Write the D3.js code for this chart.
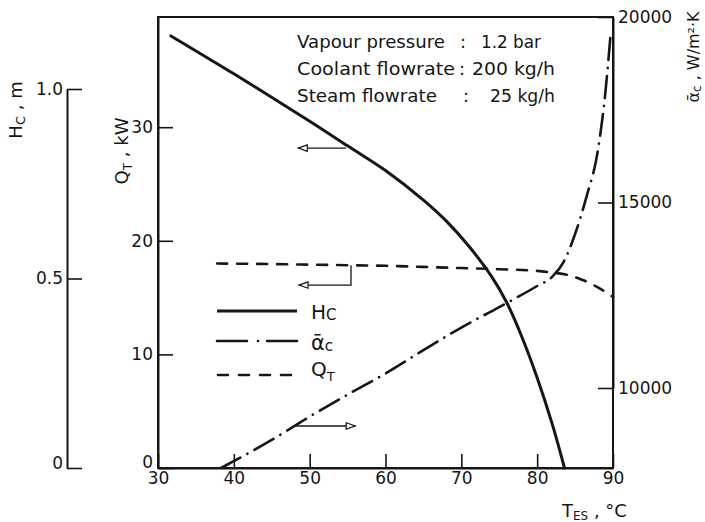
<!DOCTYPE html>
<html><head><meta charset="utf-8">
<script src="https://cdn.jsdelivr.net/npm/d3@7"></script>
<style>
body{margin:0;background:#fff;}
svg{display:block;font-family:"DejaVu Sans",sans-serif;}
</style></head><body>
<svg id="c" width="705" height="522"></svg>
<script>
// ---------- data ----------
const tempTicks = [30, 40, 50, 60, 70, 80, 90];
const qTicks = [0, 10, 20, 30];
const hTicks = [0, 0.5, 1.0];
const alphaTicks = [10000, 15000, 20000];

// H_C (m) vs T_ES
const hcT   = [31.7, 40, 50, 55, 60, 65, 68, 71, 74, 76, 78, 80, 82, 83.6];
const hcVal = [1.14, 1.04, 0.915, 0.85, 0.785, 0.707, 0.652, 0.585, 0.505, 0.436, 0.345, 0.238, 0.115, 0];

// mean alpha_c (W/m2K) vs T_ES
const alphaT   = [38.3, 45, 50, 55, 60, 65, 70, 75, 80, 82, 83.5, 85, 86.5, 88, 89, 89.7];
const alphaVal = [7844, 8600, 9230, 9820, 10390, 11020, 11630, 12180, 12750, 13000, 13400, 14150, 15150, 16400, 17980, 19570];

// Q_T (kW) vs T_ES
const qtT   = [37.8, 45, 50, 55, 60, 65, 70, 75, 80, 82, 84, 86, 88, 90];
const qtVal = [18.0, 17.95, 17.9, 17.85, 17.8, 17.7, 17.6, 17.5, 17.35, 17.2, 17.0, 16.55, 15.9, 15.05];

const noteLabels = ["Vapour pressure", "Coolant flowrate", "Steam flowrate"];
const noteValues = ["1.2 bar", "200 kg/h", "25 kg/h"];

// arrows (data coordinates)
const arrowHc = [[54.8, 0.844], [48.5, 0.844]];
const arrowQt = [[55.45, 17.85], [55.45, 16.1], [48.6, 16.1]];
const arrowAlpha = [[48.2, 8976], [56.0, 8976]];

// ---------- chart ----------
const ink = "#161616";
const svg = d3.select("#c");
const x  = d3.scaleLinear().domain([30, 90]).range([158, 613]);
const yQ = d3.scaleLinear().domain([0, 39.7]).range([468, 17]);
const yH = d3.scaleLinear().domain([0, 1]).range([468, 89]);
const yA = d3.scaleLinear().domain([10000, 20000]).range([388, 17]);

const defs = svg.append("defs");
defs.append("marker").attr("id", "ah").attr("viewBox", "-1 -5 12 10")
  .attr("refX", 9).attr("refY", 0).attr("markerWidth", 12).attr("markerHeight", 10)
  .attr("markerUnits", "userSpaceOnUse").attr("orient", "auto")
  .append("path").attr("d", "M0,-3.2L9,0L0,3.2Z")
  .attr("fill", "#fff").attr("stroke", ink).attr("stroke-width", 1.2);

// frame
svg.append("rect")
  .attr("x", x(30)).attr("y", yQ(39.7))
  .attr("width", x(90) - x(30)).attr("height", yQ(0) - yQ(39.7))
  .attr("fill", "none").attr("stroke", ink).attr("stroke-width", 2);

function styleAxis(g, fs) {
  g.attr("font-family", null).attr("font-size", null);
  g.selectAll("path.domain").attr("stroke", ink).attr("stroke-width", 2);
  g.selectAll(".tick line").attr("stroke", ink).attr("stroke-width", 1.6);
  g.selectAll(".tick text").attr("fill", ink)
    .style("font-size", fs + "px").style("font-family", "'DejaVu Sans', sans-serif");
}

const gx = svg.append("g").attr("transform", `translate(0,${yQ(0)})`)
  .call(d3.axisBottom(x).tickValues(tempTicks).tickSize(-14).tickSizeOuter(0).tickPadding(4));
styleAxis(gx, 17);

const gq = svg.append("g").attr("transform", `translate(${x(30)},0)`)
  .call(d3.axisLeft(yQ).tickValues(qTicks).tickSize(-15).tickSizeOuter(0).tickPadding(5));
styleAxis(gq, 17);
gq.selectAll(".tick text").filter(d => d === 0).attr("y", -6);

const gh = svg.append("g").attr("transform", "translate(67,0)")
  .call(d3.axisLeft(yH).tickValues(hTicks).tickSize(-15).tickSizeOuter(0).tickPadding(4)
    .tickFormat(d => d === 0 ? "0" : d3.format(".1f")(d)));
styleAxis(gh, 17);
gh.selectAll(".tick text").filter(d => d === 0).attr("y", -5);

const ga = svg.append("g").attr("transform", `translate(${x(90)},0)`)
  .call(d3.axisRight(yA).tickValues(alphaTicks).tickSize(-15).tickSizeOuter(0).tickPadding(5)
    .tickFormat(d3.format("d")));
styleAxis(ga, 17);

// curves
const hcData = hcT.map((t, i) => [t, hcVal[i]]);
const alphaData = alphaT.map((t, i) => [t, alphaVal[i]]);
const qtData = qtT.map((t, i) => [t, qtVal[i]]);

svg.append("path").datum(hcData)
  .attr("d", d3.line().x(d => x(d[0])).y(d => yH(d[1])).curve(d3.curveCatmullRom.alpha(0.5)))
  .attr("fill", "none").attr("stroke", ink).attr("stroke-width", 3).attr("stroke-linecap", "round");

svg.append("path").datum(alphaData)
  .attr("d", d3.line().x(d => x(d[0])).y(d => yA(d[1])).curve(d3.curveMonotoneX))
  .attr("fill", "none").attr("stroke", ink).attr("stroke-width", 2.6)
  .attr("stroke-linecap", "round").attr("stroke-dasharray", "22,8,0.1,8");

svg.append("path").datum(qtData)
  .attr("d", d3.line().x(d => x(d[0])).y(d => yQ(d[1])).curve(d3.curveMonotoneX))
  .attr("fill", "none").attr("stroke", ink).attr("stroke-width", 2.6)
  .attr("stroke-linecap", "round").attr("stroke-dasharray", "10,10");

// arrows
const arrowStyle = p => p.attr("fill", "none").attr("stroke", ink).attr("stroke-width", 1.3)
  .attr("marker-end", "url(#ah)");
svg.append("path").datum(arrowHc)
  .attr("d", d3.line().x(d => x(d[0])).y(d => yH(d[1]))).call(arrowStyle);
svg.append("path").datum(arrowQt)
  .attr("d", d3.line().x(d => x(d[0])).y(d => yQ(d[1]))).call(arrowStyle);
svg.append("path").datum(arrowAlpha)
  .attr("d", d3.line().x(d => x(d[0])).y(d => yA(d[1]))).call(arrowStyle);

// annotation
const noteY = [48, 75, 102];
const noteLabelW = [148, 158, 140];
const colonX = [460, 459, 463];
const valX = [481, 472, 490];
const valW = [60, 83, 65];
const note = svg.append("g").attr("fill", ink).style("font-size", "18px");
noteLabels.forEach((s, i) => {
  note.append("text").attr("x", 297).attr("y", noteY[i]).attr("textLength", noteLabelW[i])
    .attr("lengthAdjust", "spacingAndGlyphs").text(s);
  note.append("text").attr("x", colonX[i]).attr("y", noteY[i]).text(":");
  note.append("text").attr("x", valX[i]).attr("y", noteY[i]).attr("textLength", valW[i])
    .attr("lengthAdjust", "spacingAndGlyphs").text(noteValues[i]);
});

// legend
const leg = svg.append("g");
const lx0 = 217, lx1 = 297;
leg.append("line").attr("x1", lx0).attr("x2", lx1).attr("y1", 311).attr("y2", 311)
  .attr("stroke", ink).attr("stroke-width", 3);
leg.append("line").attr("x1", lx0).attr("x2", lx1).attr("y1", 341).attr("y2", 341)
  .attr("stroke", ink).attr("stroke-width", 2.6).attr("stroke-linecap", "round")
  .attr("stroke-dasharray", "30,11,0.1,9,40");
leg.append("line").attr("x1", lx0 + 1).attr("x2", lx1).attr("y1", 375).attr("y2", 375)
  .attr("stroke", ink).attr("stroke-width", 2.6).attr("stroke-linecap", "round")
  .attr("stroke-dasharray", "10,11");

function subText(g, xx, yy, fs, parts) {
  const t = g.append("text").attr("x", xx).attr("y", yy).attr("fill", ink).style("font-size", fs + "px");
  parts.forEach(p => {
    const ts = t.append("tspan").text(p.t);
    if (p.fs) ts.style("font-size", p.fs + "px");
    if (p.dy) ts.attr("dy", p.dy);
  });
  return t;
}
subText(leg, 311, 319, 20, [{t: "H"}, {t: "C", fs: 15, dy: 1}]);
subText(leg, 311, 350, 21, [{t: "ᾱ"}, {t: "c", fs: 15, dy: 1}]);
subText(leg, 311, 376, 20, [{t: "Q"}, {t: "T", fs: 13, dy: 5}]);

// axis titles
const hT = svg.append("g").attr("transform", "translate(22,110) rotate(-90)");
subText(hT, 0, 0, 18, [{t: "H"}, {t: "C", fs: 13, dy: 3}, {t: " , m", dy: -3}]).attr("text-anchor", "middle");

const qT = svg.append("g").attr("transform", "translate(128,151) rotate(-90)");
subText(qT, 0, 0, 18, [{t: "Q"}, {t: "T", fs: 12, dy: 4}, {t: " , kW", dy: -4}]).attr("text-anchor", "middle");

const aT = svg.append("g").attr("transform", "translate(699,57) rotate(-90)");
subText(aT, 0, 0, 16, [{t: "ᾱ"}, {t: "c", fs: 12, dy: 2}, {t: " , W/m²·K", dy: -2}]).attr("text-anchor", "middle");

subText(svg, 562, 517, 18, [{t: "T"}, {t: "ES", fs: 12, dy: 3}, {t: " , °C", dy: -3}]);
</script>
</body></html>
